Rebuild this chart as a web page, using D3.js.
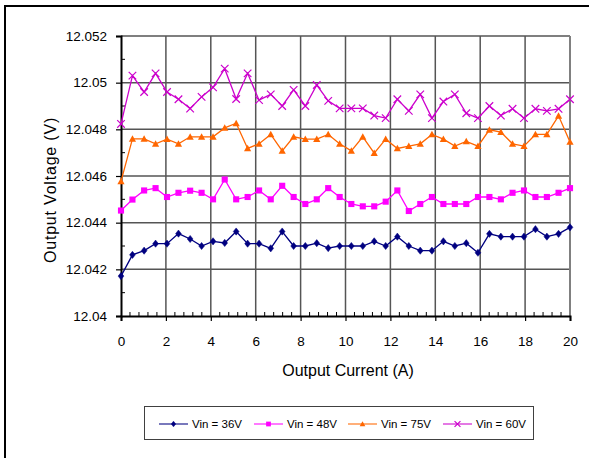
<!DOCTYPE html>
<html>
<head>
<meta charset="utf-8">
<script src="https://cdn.jsdelivr.net/npm/d3@7"></script>
<style>
  html, body { margin: 0; padding: 0; background: #fff; }
  svg { display: block; font-family: "Liberation Sans", Arial, sans-serif; }
</style>
</head>
<body>
<svg id="chart" width="589" height="458"></svg>
<script>
// ---- data ----
const current = [0, 0.51, 1.03, 1.54, 2.05, 2.56, 3.08, 3.59, 4.1, 4.62, 5.13, 5.64, 6.15, 6.67, 7.18, 7.69, 8.21, 8.72, 9.23, 9.74, 10.26, 10.77, 11.28, 11.79, 12.31, 12.82, 13.33, 13.85, 14.36, 14.87, 15.38, 15.9, 16.41, 16.92, 17.44, 17.95, 18.46, 18.97, 19.49, 20];
const vin36 = [12.04171, 12.04262, 12.0428, 12.0431, 12.0431, 12.04353, 12.0433, 12.043, 12.0432, 12.04313, 12.04362, 12.0431, 12.0431, 12.0429, 12.04362, 12.043, 12.043, 12.04312, 12.04291, 12.043, 12.043, 12.043, 12.0432, 12.043, 12.0434, 12.043, 12.0428, 12.0428, 12.0432, 12.043, 12.04312, 12.04271, 12.04352, 12.0434, 12.0434, 12.0434, 12.04372, 12.0434, 12.04352, 12.0438];
const vin48 = [12.04452, 12.04499, 12.04538, 12.04548, 12.0451, 12.04528, 12.04537, 12.04528, 12.045, 12.04585, 12.045, 12.0451, 12.04538, 12.045, 12.04558, 12.0451, 12.0448, 12.045, 12.04548, 12.0451, 12.0448, 12.0447, 12.0447, 12.0449, 12.04538, 12.0445, 12.0448, 12.0451, 12.0448, 12.0448, 12.0448, 12.0451, 12.0451, 12.045, 12.04528, 12.04538, 12.0451, 12.0451, 12.04528, 12.04548];
const vin75 = [12.04577, 12.04759, 12.04759, 12.04738, 12.04758, 12.04738, 12.04768, 12.04768, 12.04768, 12.04806, 12.04826, 12.04718, 12.04738, 12.04778, 12.04708, 12.04768, 12.04758, 12.04758, 12.04778, 12.04738, 12.04708, 12.04768, 12.04698, 12.04758, 12.04718, 12.04728, 12.04738, 12.04778, 12.04758, 12.04728, 12.04748, 12.04728, 12.04798, 12.04788, 12.04738, 12.04728, 12.04778, 12.04778, 12.04858, 12.04746];
const vin60 = [12.04823, 12.0503, 12.0496, 12.0504, 12.0496, 12.04929, 12.04889, 12.04939, 12.0498, 12.0506, 12.0493, 12.0504, 12.04925, 12.0495, 12.049, 12.04969, 12.049, 12.0499, 12.04922, 12.0489, 12.0489, 12.0489, 12.04859, 12.04848, 12.04929, 12.04879, 12.0495, 12.04848, 12.04919, 12.0495, 12.04869, 12.04848, 12.049, 12.04859, 12.04888, 12.04848, 12.04888, 12.04879, 12.04888, 12.04929];
const seriesNames = ["Vin = 36V", "Vin = 48V", "Vin = 75V", "Vin = 60V"];
const xTicks = [0, 2, 4, 6, 8, 10, 12, 14, 16, 18, 20];
const yTicks = [12.04, 12.042, 12.044, 12.046, 12.048, 12.05, 12.052];
const yTickLabels = ["12.04", "12.042", "12.044", "12.046", "12.048", "12.05", "12.052"];

// ---- styles ----
const colors = ["#000080", "#FF00FF", "#FF6600", "#CC00CC"];
const markers = ["diamond", "square", "triangle", "cross"];
const seriesValues = [vin36, vin48, vin75, vin60];

const svg = d3.select("#chart");
const W = 589, H = 458;
const plot = { left: 121, right: 570, top: 36, bottom: 316 };

svg.append("rect").attr("width", W).attr("height", H).attr("fill", "#fff");
// outer frame (top + left visible)
svg.append("rect").attr("x", 5).attr("y", 6).attr("width", 700).attr("height", 600)
  .attr("fill", "none").attr("stroke", "#000").attr("stroke-width", 2);

const x = d3.scaleLinear().domain([0, 20]).range([plot.left, plot.right]);
const y = d3.scaleLinear().domain([12.04, 12.052]).range([plot.bottom, plot.top]);

// gridlines
const grid = svg.append("g");
grid.selectAll("line.h").data(yTicks.slice(1)).join("line")
  .attr("x1", plot.left).attr("x2", plot.right)
  .attr("y1", d => y(d)).attr("y2", d => y(d))
  .attr("stroke", "#555").attr("stroke-width", 1.5);
grid.selectAll("line.v").data(xTicks.slice(1, -1)).join("line")
  .attr("x1", d => x(d)).attr("x2", d => x(d))
  .attr("y1", plot.top).attr("y2", plot.bottom)
  .attr("stroke", "#555").attr("stroke-width", 1.5);
// right border of plot
svg.append("line").attr("x1", plot.right).attr("x2", plot.right)
  .attr("y1", plot.top).attr("y2", plot.bottom)
  .attr("stroke", "#808080").attr("stroke-width", 2);

// minor ticks (inside)
const xMinor = d3.range(0, 20.001, 0.4).filter(v => Math.abs(v / 2 - Math.round(v / 2)) > 1e-6);
svg.append("g").selectAll("line").data(xMinor).join("line")
  .attr("x1", d => x(d)).attr("x2", d => x(d))
  .attr("y1", plot.bottom).attr("y2", plot.bottom - 4)
  .attr("stroke", "#000").attr("stroke-width", 1);
const yMinor = [12.041, 12.043, 12.045, 12.047, 12.049, 12.051];
svg.append("g").selectAll("line").data(yMinor).join("line")
  .attr("x1", plot.left).attr("x2", plot.left + 4)
  .attr("y1", d => y(d)).attr("y2", d => y(d))
  .attr("stroke", "#000").attr("stroke-width", 1);

// axes
const xAxis = d3.axisBottom(x).tickValues(xTicks).tickSize(5).tickPadding(15).tickFormat(d3.format("d"));
const gx = svg.append("g").attr("transform", `translate(0,${plot.bottom})`).call(xAxis);
const yAxis = d3.axisLeft(y).tickValues(yTicks).tickSize(5).tickPadding(9)
  .tickFormat((d, i) => yTickLabels[i]);
const gy = svg.append("g").attr("transform", `translate(${plot.left},0)`).call(yAxis);
[gx, gy].forEach(g => {
  g.select(".domain").attr("stroke", "#000").attr("stroke-width", 2);
  g.selectAll(".tick line").attr("stroke", "#000").attr("stroke-width", 1.2);
  g.selectAll(".tick text").attr("fill", "#000").style("font-size", "13.5px")
    .style("font-family", "'Liberation Sans', Arial, sans-serif");
});

// axis titles
svg.append("text").attr("x", 348).attr("y", 376).attr("text-anchor", "middle")
  .style("font-size", "16px").attr("fill", "#000").text("Output Current (A)");
svg.append("text").attr("transform", "translate(56,190) rotate(-90)").attr("text-anchor", "middle")
  .style("font-size", "16px").style("letter-spacing", "0.8px").attr("fill", "#000").text("Output Voltage (V)");

// marker drawing
function drawMarker(g, type, cx, cy, color, s) {
  if (type === "diamond") {
    g.append("path").attr("d", `M${cx},${cy - s}L${cx + s * 0.8},${cy}L${cx},${cy + s}L${cx - s * 0.8},${cy}Z`)
      .attr("fill", color).attr("stroke", color).attr("stroke-width", 0.5);
  } else if (type === "square") {
    g.append("rect").attr("x", cx - s * 0.85).attr("y", cy - s * 0.85)
      .attr("width", s * 1.7).attr("height", s * 1.7).attr("fill", color);
  } else if (type === "triangle") {
    g.append("path").attr("d", `M${cx},${cy - s}L${cx + s},${cy + s * 0.8}L${cx - s},${cy + s * 0.8}Z`)
      .attr("fill", color);
  } else {
    const k = s * 1.05;
    g.append("path").attr("d", `M${cx - k},${cy - k}L${cx + k},${cy + k}M${cx - k},${cy + k}L${cx + k},${cy - k}`)
      .attr("stroke", color).attr("stroke-width", 1.2).attr("fill", "none");
  }
}

// series
const line = d3.line().x(d => x(d[0])).y(d => y(d[1]));
seriesValues.forEach((vals, si) => {
  const pts = current.map((c, i) => [c, vals[i]]);
  const g = svg.append("g");
  g.append("path").attr("d", line(pts)).attr("fill", "none")
    .attr("stroke", colors[si]).attr("stroke-width", 1.3);
  pts.forEach(p => drawMarker(g, markers[si], x(p[0]), y(p[1]), colors[si], 3.6));
});

// legend
const lg = svg.append("g");
lg.append("rect").attr("x", 144.5).attr("y", 406.5).attr("width", 389).attr("height", 33)
  .attr("fill", "#fff").attr("stroke", "#404040").attr("stroke-width", 1);
const legendX = [159, 254, 348, 443];
seriesNames.forEach((name, si) => {
  const lx = legendX[si], ly = 424;
  lg.append("line").attr("x1", lx).attr("x2", lx + 29).attr("y1", ly).attr("y2", ly)
    .attr("stroke", colors[si]).attr("stroke-width", 1.5).attr("stroke-opacity", 0.7);
  drawMarker(lg, markers[si], lx + 14.5, ly, colors[si], 2.8);
  lg.append("text").attr("x", lx + 33).attr("y", ly + 4).style("font-size", "11.5px")
    .attr("fill", "#000").text(name);
});
</script>
</body>
</html>
